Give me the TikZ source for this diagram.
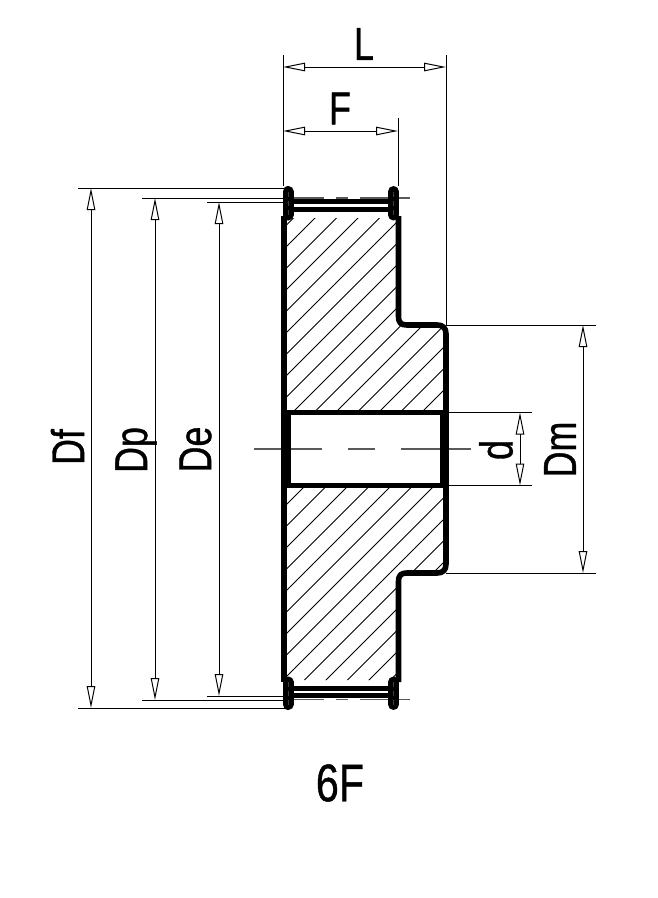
\documentclass[tikz,border=0pt]{standalone}
\usepackage{fontspec}
\setmainfont{Liberation Sans}
\newfontfamily\lblfont[RawFeature={embolden=0.9}]{Liberation Sans}
\usetikzlibrary{arrows.meta}
\tikzset{
  thinl/.style={line width=1pt,black},
  dimn/.style={line width=1pt,black,{Triangle[open,length=22pt,width=8.5pt,fill=white]}-{Triangle[open,length=22pt,width=8.5pt,fill=white]}},
  thick body/.style={line width=5.6pt,black,line join=round},
  hatch/.style={line width=1pt,black},
  centerl/.style={line width=1.2pt,black!65},
  flange/.style={line width=11pt,black,line cap=round},
  lbl/.style={inner sep=0pt,font=\lblfont\fontsize{46}{46}\selectfont},
  bigl/.style={inner sep=0pt,font=\lblfont\fontsize{53}{53}\selectfont},
}
\newcommand{\nar}[1]{\scalebox{0.78}[1]{#1}}
\begin{document}
\begin{tikzpicture}[x=1pt,y=-1pt]
\useasboundingbox (0,0) rectangle (658,898);
\fill[white] (0,0) rectangle (658,898);
% hatching
\begin{scope}
\clip (285,218) -- (398,218) -- (398,317) -- (406,325) -- (438,325) -- (446,333) -- (446,405) -- (441,412) -- (290,412) -- (285,407) -- cycle
      (285,680) -- (398,680) -- (398,581) -- (406,573) -- (438,573) -- (446,565) -- (446,493) -- (441,486) -- (290,486) -- (285,491) -- cycle;
\foreach \k in {-12,...,30}{
  \draw[hatch] ({705+21.5*\k},0) -- (0,{705+21.5*\k});
}
\end{scope}
% extension lines
\coordinate (eLt) at (283,55); \coordinate (eLb) at (283,186);
\coordinate (eRt) at (446,55); \coordinate (eRb) at (446,325);
\coordinate (eFt) at (398,118); \coordinate (eFb) at (398,186);
\draw[thinl] (eLt) -- (eLb);
\draw[thinl] (eRt) -- (eRb);
\draw[thinl] (eFt) -- (eFb);
\draw[thinl] (78,188) -- (285,188);
\draw[thinl] (142,198) -- (285,198);
\draw[thinl] (207,202) -- (285,202);
\draw[thinl] (78,708) -- (285,708);
\draw[thinl] (142,700) -- (285,700);
\draw[thinl] (207,696) -- (285,696);
\draw[thinl] (446,325) -- (596,325);
\draw[thinl] (446,573) -- (596,573);
\draw[thinl] (446,412.5) -- (532,412.5);
\draw[thinl] (446,485.5) -- (532,485.5);
% centre lines
\draw[centerl] (254,449) -- (322,449);
\draw[centerl] (348,449) -- (375,449);
\draw[centerl] (401,449) -- (471,449);
\foreach \y in {198,699.5}{
  \draw[centerl] (290,\y) -- (324,\y);
  \draw[centerl] (336,\y) -- (348,\y);
  \draw[centerl] (360,\y) -- (410,\y);
}
% dimensions
\coordinate (aL) at (283,67); \coordinate (bL) at (446,67);
\coordinate (aF) at (283,131); \coordinate (bF) at (398,131);
\coordinate (aDf) at (91,188); \coordinate (bDf) at (91,708);
\coordinate (aDp) at (155,198); \coordinate (bDp) at (155,700);
\coordinate (aDe) at (219,202); \coordinate (bDe) at (219,696);
\coordinate (aDm) at (583,325); \coordinate (bDm) at (583,573);
\coordinate (ad) at (520,412.5); \coordinate (bd) at (520,485.5);
\foreach \a/\b in {aL/bL,aF/bF,aDf/bDf,aDp/bDp,aDe/bDe,aDm/bDm,ad/bd}{
  \draw[dimn] (\a) -- (\b);
}
% body outline
\draw[thick body] (284,216) -- (284,682);
\draw[thick body] (398.5,216) -- (398.5,316) .. controls (398.5,323) and (401,325) .. (407,325)
   -- (437,325) .. controls (443,325) and (446,328) .. (446,334) -- (446,564)
   .. controls (446,570) and (443,573) .. (437,573) -- (407,573)
   .. controls (401,573) and (398.5,575) .. (398.5,582) -- (398.5,682);
\draw[line width=5.4pt,black] (285,412.5) -- (446,412.5);
\draw[line width=5.4pt,black] (285,485.5) -- (446,485.5);
\draw[line width=4.6pt,black] (288.8,410) -- (288.8,488);
\draw[line width=9pt,black] (444.5,410) -- (444.5,488);
% teeth
\draw[line width=5pt,black] (288,201.5) -- (393,201.5);
\draw[line width=5pt,black] (288,209.5) -- (393,209.5);
\draw[line width=5pt,black] (288,688.5) -- (393,688.5);
\draw[line width=5pt,black] (288,695.5) -- (393,695.5);
\draw[flange] (288,191.5) -- (288,215);
\draw[flange] (393.5,191.5) -- (393.5,215);
\draw[flange] (288,682) -- (288,704.5);
\draw[flange] (393.5,682) -- (393.5,704.5);
\foreach \x in {288,393.5}{
  \draw[black!75,line width=0.4pt,dash pattern=on 5pt off 4pt] (\x,192) -- (\x,216);
  \draw[black!75,line width=0.4pt,dash pattern=on 5pt off 4pt] (\x,682) -- (\x,705);
}
% labels
\node[lbl] (tL) at (364,44) {\nar{L}};
\node[lbl] (tF) at (340,108.5) {\nar{F}};
\node[lbl,rotate=90] (tDf) at (67.5,447) {\nar{Df}};
\node[lbl,rotate=90] (tDp) at (136,450) {\nar{Dp}};
\node[lbl,rotate=90] (tDe) at (195.5,449.5) {\nar{De}};
\node[lbl,rotate=90] (tDm) at (560,449.5) {\nar{Dm}};
\node[lbl,rotate=90] (td) at (496,450) {\nar{d}};
\node[bigl] (t6F) at (340,783) {\nar{6F}};
\end{tikzpicture}
\end{document}
